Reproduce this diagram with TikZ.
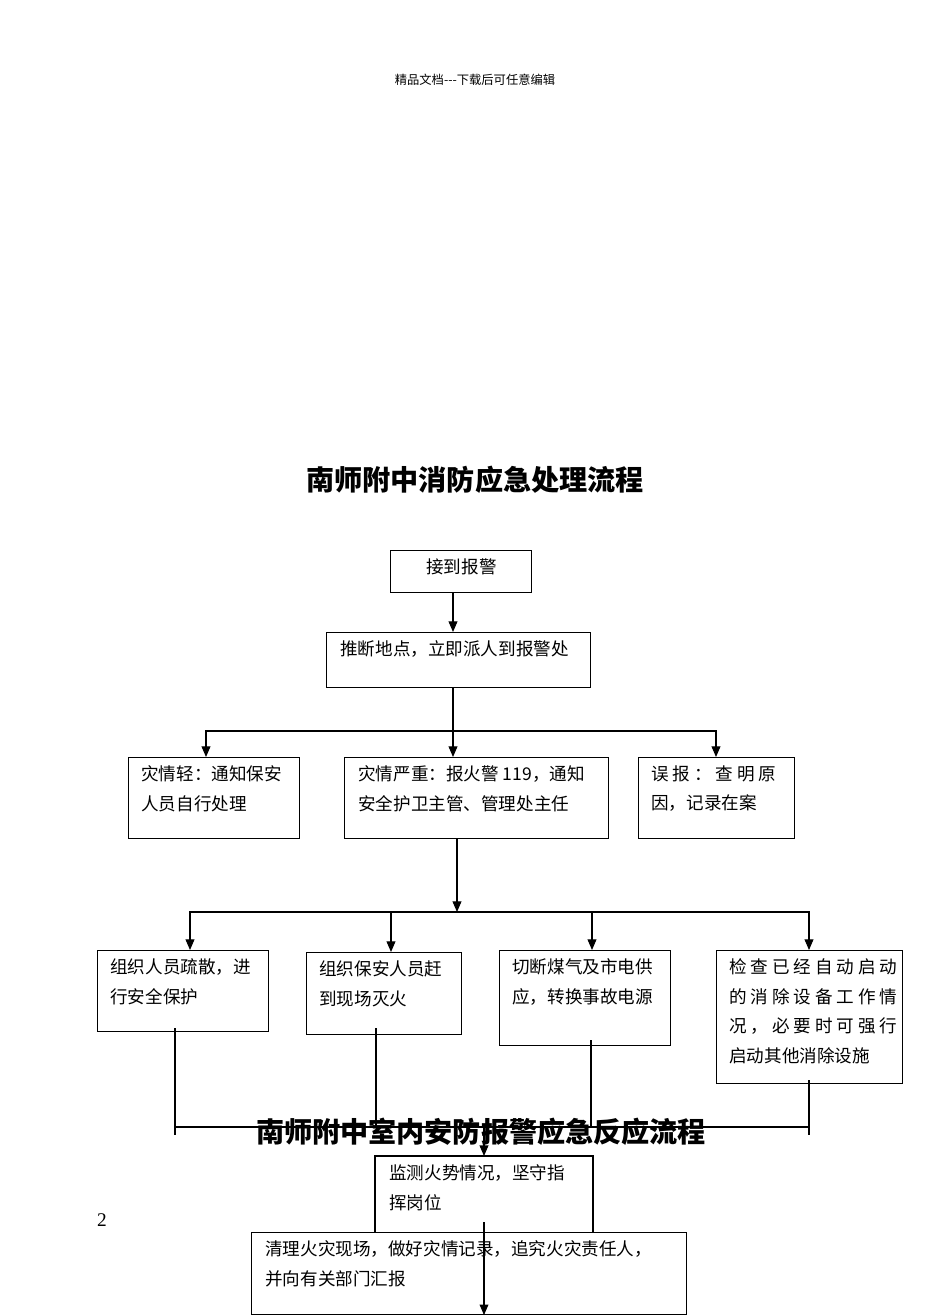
\documentclass[tikz,border=0pt]{standalone}
\usepackage{fontspec}
\setmainfont{Liberation Serif}
\newfontfamily\cjk{Noto Sans CJK SC}
\usetikzlibrary{arrows.meta,calc}
\tikzset{
  box/.style={draw,line width=0.6pt,inner sep=0pt,anchor=north west},
  txt/.style={anchor=north west,inner sep=0pt,align=left,font=\cjk\fontsize{10}{17}\selectfont},
  arr/.style={line width=0.6pt,-{Triangle[length=6pt,width=5pt]}},
  ln/.style={line width=0.6pt}
}
\begin{document}
\begin{tikzpicture}[x=0.02cm,y=-0.02cm]
	\useasboundingbox (0,0) rectangle (950,1316);

	\node[font=\cjk\fontsize{7}{8}\selectfont] (hdr) at (475,80) {精品文档---下载后可任意编辑};
	\node[font=\cjk\bfseries\fontsize{16}{18}\selectfont] (t1) at (475,480) {南师附中消防应急处理流程};
	\node[font=\fontsize{11}{12}\selectfont] (pg) at (102,1220) {2};

	% first level
	\node[box,minimum width={141*0.02cm},minimum height={42*0.02cm}] (a) at (390,550) {};
	\node[txt] at ($(a.north west)+(36,8)$) {接到报警};
	\node[box,minimum width={264*0.02cm},minimum height={55*0.02cm}] (b) at (326,632) {};
	\node[txt] at ($(b.north west)+(14,8)$) {推断地点，立即派人到报警处};
	\draw[arr] (a.south -| 453,0) -- (b.north -| 453,0);

	% three cases
	\node[box,minimum width={171*0.02cm},minimum height={81*0.02cm}] (c1) at (128,757) {};
	\node[txt] at ($(c1.north west)+(13,8)$) {灾情轻：通知保安\\人员自行处理};
	\node[box,minimum width={264*0.02cm},minimum height={81*0.02cm}] (c2) at (344,757) {};
	\node[txt] at ($(c2.north west)+(14,8)$) {灾情严重：报火警 119，通知\\安全护卫主管、管理处主任};
	\node[box,minimum width={156*0.02cm},minimum height={81*0.02cm}] (c3) at (638,757) {};
	\node[txt] at ($(c3.north west)+(13,8)$) {误 报 ： 查 明 原\\因，记录在案};
	\coordinate (s1) at (453,731);
	\draw[ln] (b.south -| 453,0) -- (s1);
	\draw[arr] (s1) -- (c2.north -| 453,0);
	\draw[arr] (s1) -| (c1.north -| 206,0);
	\draw[arr] (s1) -| (c3.north -| 716,0);

	% four actions
	\node[box,minimum width={171*0.02cm},minimum height={81*0.02cm}] (d1) at (97,950) {};
	\node[txt] at ($(d1.north west)+(13,8)$) {组织人员疏散，进\\行安全保护};
	\node[box,minimum width={155*0.02cm},minimum height={82*0.02cm}] (d2) at (306,952) {};
	\node[txt] at ($(d2.north west)+(13,8)$) {组织保安人员赶\\到现场灭火};
	\node[box,minimum width={171*0.02cm},minimum height={95*0.02cm}] (d3) at (499,950) {};
	\node[txt] at ($(d3.north west)+(13,8)$) {切断煤气及市电供\\应，转换事故电源};
	\node[box,minimum width={186*0.02cm},minimum height={133*0.02cm}] (d4) at (716,950) {};
	\node[txt] at ($(d4.north west)+(13,8)$) {检 查 已 经 自 动 启 动\\的 消 除 设 备 工 作 情\\况 ， 必 要 时 可 强 行\\启动其他消除设施};
	\coordinate (s2) at (457,912);
	\draw[arr] (c2.south -| 457,0) -- (s2);
	\draw[arr] (s2) -| (d1.north -| 190,0);
	\draw[arr] (s2) -| (d2.north -| 391,0);
	\draw[arr] (s2) -| (d3.north -| 592,0);
	\draw[arr] (s2) -| (d4.north -| 809,0);

	% collect
	\coordinate (m1) at (175,1127);
	\coordinate (m4) at (809,1127);
	\draw[ln] (175,1028) -- (175,1135);
	\draw[ln] (376,1028) -- (376,1127);
	\draw[ln] (591,1040) -- (591,1127);
	\draw[ln] (809,1080) -- (809,1135);
	\draw[ln] (m1) -- (m4);

	\node[font=\cjk\bfseries\fontsize{16}{18}\selectfont] (t2) at (481,1132) {南师附中室内安防报警应急反应流程};

	% last steps
	\node[box,minimum width={435*0.02cm},minimum height={82*0.02cm}] (f) at (251,1232) {};
	\node[txt] at ($(f.north west)+(14,8)$) {清理火灾现场，做好灾情记录，追究火灾责任人，\\并向有关部门汇报};
	\draw[ln] (375,1232) -- (375,1156) -- (593,1156) -- (593,1232);
	\coordinate (e) at (375,1156);
	\node[txt] at ($(e)+(14,8)$) {监测火势情况，坚守指\\挥岗位};
	\draw[arr] (484,1127) -- (484,1156);
	\draw[arr] (484,1222) -- (f.south -| 484,0);
\end{tikzpicture}
\end{document}
